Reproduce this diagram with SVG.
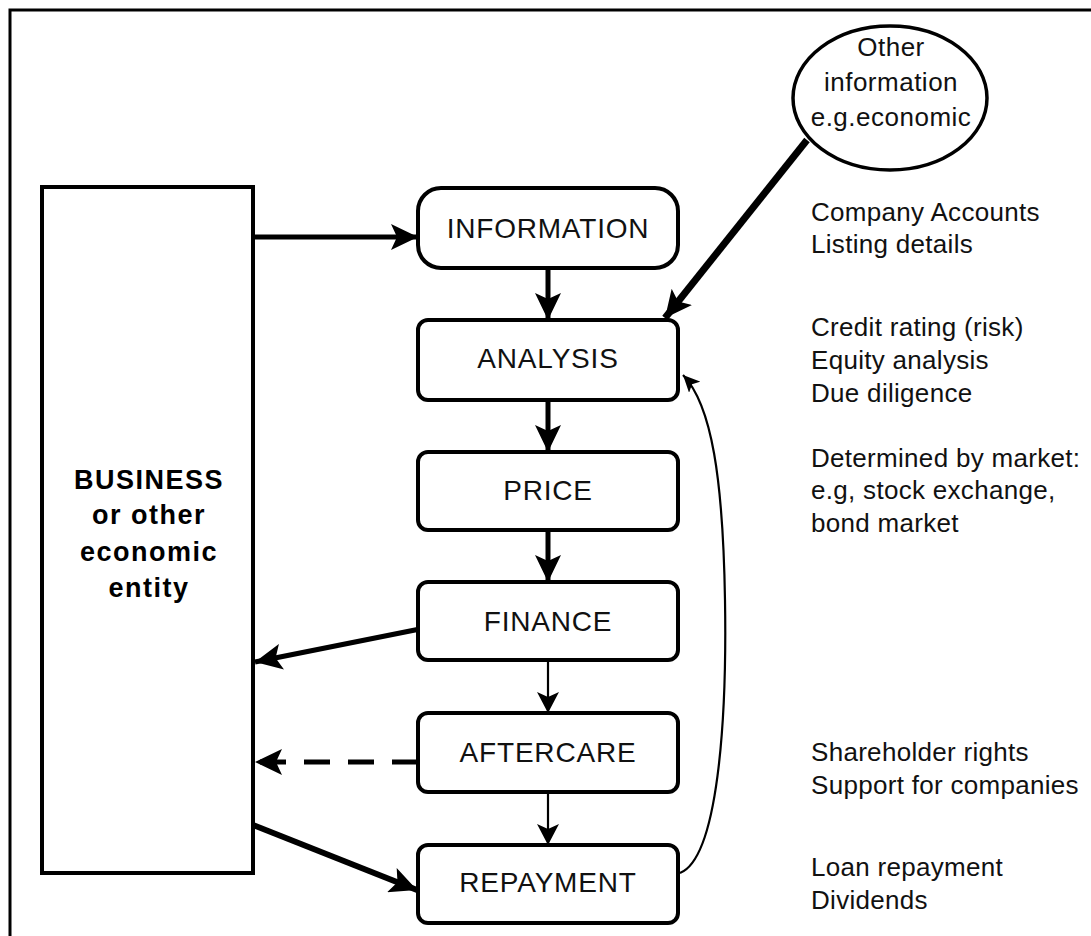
<svg xmlns="http://www.w3.org/2000/svg" width="1091" height="936" viewBox="0 0 1091 936">
<style>
.frame{fill:none;stroke:#000;stroke-width:3}
.box{fill:#fff;stroke:#000;stroke-width:4}
.lbl{font-family:"Liberation Sans",Arial,sans-serif;font-size:28px;letter-spacing:0.8px;text-anchor:middle;fill:#111}
.biz{font-family:"Liberation Sans",Arial,sans-serif;font-size:27px;font-weight:bold;letter-spacing:1.5px;text-anchor:middle;fill:#000}
.note{font-family:"Liberation Sans",Arial,sans-serif;font-size:26px;letter-spacing:0.3px;fill:#111}
.ell{font-family:"Liberation Sans",Arial,sans-serif;font-size:26px;letter-spacing:0.5px;text-anchor:middle;fill:#111}
.thick{fill:none;stroke:#000;stroke-width:5}
.thin{fill:none;stroke:#000;stroke-width:2.2}
</style>
<defs>
<marker id="hb" markerUnits="userSpaceOnUse" markerWidth="28" markerHeight="26" refX="27" refY="13" orient="auto">
<path d="M0,0 L27,13 L0,26 L6,13 Z" fill="#000"/>
</marker>
<marker id="hs" markerUnits="userSpaceOnUse" markerWidth="22" markerHeight="22" refX="21" refY="11" orient="auto">
<path d="M0,0 L21,11 L0,22 L5,11 Z" fill="#000"/>
</marker>
<marker id="hc" markerUnits="userSpaceOnUse" markerWidth="18" markerHeight="16" refX="17" refY="8" orient="auto">
<path d="M0,0 L17,8 L0,16 L4,8 Z" fill="#000"/>
</marker>
</defs>
<path class="frame" d="M10,936 L10,10 L1091,10"/>
<g id="connectors">
<line class="thick" x1="253" y1="237" x2="418" y2="237" marker-end="url(#hb)"/>
<line class="thick" x1="548" y1="268" x2="548" y2="320" marker-end="url(#hb)"/>
<line class="thick" x1="548" y1="400" x2="548" y2="452" marker-end="url(#hb)"/>
<line class="thick" x1="548" y1="530" x2="548" y2="582" marker-end="url(#hb)"/>
<line class="thin" x1="548" y1="660" x2="548" y2="713" marker-end="url(#hs)"/>
<line class="thin" x1="548" y1="792" x2="548" y2="845" marker-end="url(#hs)"/>
<line x1="807" y1="140" x2="665" y2="318" fill="none" stroke="#000" stroke-width="7" marker-end="url(#hb)"/>
<line class="thick" x1="420" y1="629" x2="255" y2="662" marker-end="url(#hb)"/>
<line class="thick" x1="418" y1="762" x2="255" y2="762" stroke-dasharray="26 18" marker-end="url(#hb)"/>
<line x1="253" y1="825" x2="417" y2="890" fill="none" stroke="#000" stroke-width="6" marker-end="url(#hb)"/>
<path class="thin" d="M680,873 C718,858 727,720 725,600 C723,480 712,405 683,375" marker-end="url(#hc)"/>
</g>
<g id="business">
<rect class="box" x="42" y="187" width="211" height="686"/>
<text class="biz" x="149" y="489">BUSINESS</text>
<text class="biz" x="149" y="524">or other</text>
<text class="biz" x="149" y="561">economic</text>
<text class="biz" x="149" y="597">entity</text>
</g>
<g id="other-info">
<ellipse cx="890" cy="98" rx="97" ry="72" fill="#fff" stroke="#000" stroke-width="3.5"/>
<text class="ell" x="891" y="56">Other</text>
<text class="ell" x="891" y="91">information</text>
<text class="ell" x="891" y="126">e.g.economic</text>
</g>
<g id="information">
<rect class="box" x="418" y="188" width="260" height="80" rx="23"/>
<text class="lbl" x="548" y="238">INFORMATION</text>
</g>
<g id="analysis">
<rect class="box" x="418" y="320" width="260" height="80" rx="10"/>
<text class="lbl" x="548" y="368">ANALYSIS</text>
</g>
<g id="price">
<rect class="box" x="418" y="452" width="260" height="78" rx="10"/>
<text class="lbl" x="548" y="500">PRICE</text>
</g>
<g id="finance">
<rect class="box" x="418" y="582" width="260" height="78" rx="10"/>
<text class="lbl" x="548" y="631">FINANCE</text>
</g>
<g id="aftercare">
<rect class="box" x="418" y="713" width="260" height="79" rx="10"/>
<text class="lbl" x="548" y="762">AFTERCARE</text>
</g>
<g id="repayment">
<rect class="box" x="418" y="845" width="260" height="78" rx="10"/>
<text class="lbl" x="548" y="892">REPAYMENT</text>
</g>
<g id="notes">
<text class="note" x="811" y="221">Company Accounts</text>
<text class="note" x="811" y="253">Listing details</text>
<text class="note" x="811" y="336">Credit rating (risk)</text>
<text class="note" x="811" y="369">Equity analysis</text>
<text class="note" x="811" y="402">Due diligence</text>
<text class="note" x="811" y="467">Determined by market:</text>
<text class="note" x="811" y="499">e.g, stock exchange,</text>
<text class="note" x="811" y="532">bond market</text>
<text class="note" x="811" y="761">Shareholder rights</text>
<text class="note" x="811" y="794">Support for companies</text>
<text class="note" x="811" y="876">Loan repayment</text>
<text class="note" x="811" y="909">Dividends</text>
</g>
</svg>
